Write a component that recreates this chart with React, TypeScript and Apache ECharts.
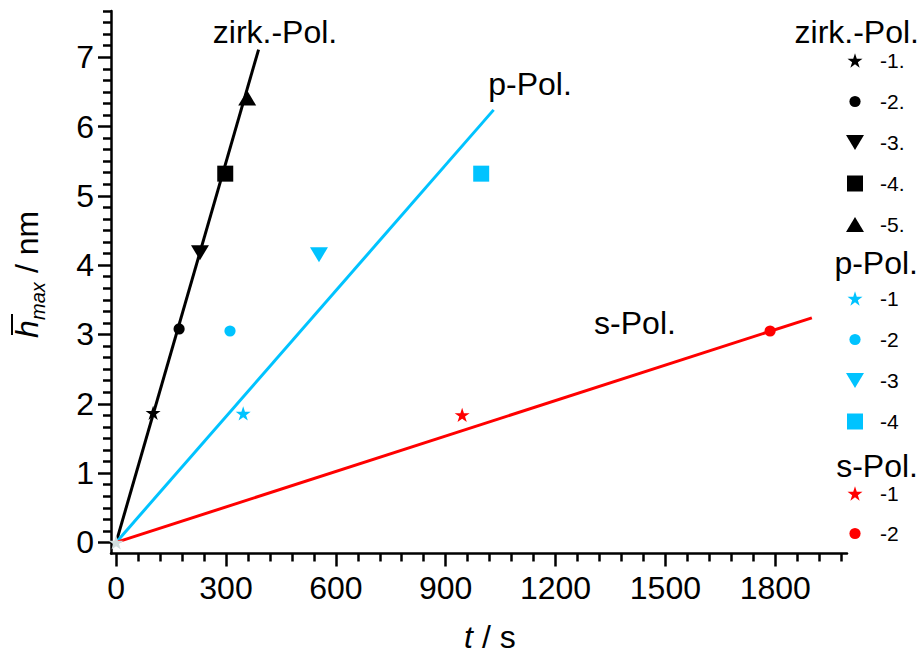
import React, { useEffect, useRef } from "react";
import * as echarts from "echarts";

// ---- data ----
const zirkT = [101, 172, 229, 298, 358];
const zirkH = [1.87, 3.08, 4.18, 5.32, 6.41];
const zirkNames = ["-1.", "-2.", "-3.", "-4.", "-5."];
const zirkShapes = ["star", "circle", "triDown", "square", "triUp"];

const pT = [347, 311, 554, 997];
const pH = [1.86, 3.05, 4.15, 5.32];
const pNames = ["-1", "-2", "-3", "-4"];
const pShapes = ["star", "circle", "triDown", "square"];

const sT = [945, 1786];
const sH = [1.84, 3.05];
const sNames = ["-1", "-2"];
const sShapes = ["star", "circle"];

const originT = [0];
const originH = [0];

const zirkFitT = [0, 389];
const zirkFitH = [0, 7.11];
const pFitT = [0, 1031];
const pFitH = [0, 6.24];
const sFitT = [0, 1900];
const sFitH = [0, 3.24];

const xMajor = [0, 300, 600, 900, 1200, 1500, 1800];
const yMajor = [0, 1, 2, 3, 4, 5, 6, 7];

const BLACK = "#000000";
const CYAN = "#00C3FF";
const RED = "#FF0000";
const GREY = "#D2DEDE";
const FONT = '"Liberation Sans", Arial, Helvetica, sans-serif';

function xMinorTicks() {
  const out: number[] = [];
  for (let v = 60; v <= 1980; v += 60) if (v % 300 !== 0) out.push(v);
  return out;
}
function yMinorTicks() {
  const out: number[] = [];
  for (let k = 1; k <= 46; k++) if (k % 6 !== 0) out.push(k / 6);
  return out;
}

function shapePath(kind: string, cx: number, cy: number): string {
  const f = (n: number) => n.toFixed(2);
  if (kind === "star") {
    const R = 15 / 1.902;
    const r = R * 0.382;
    const c = cy + R * 0.0955;
    let d = "";
    for (let i = 0; i < 10; i++) {
      const a = -Math.PI / 2 + (i * Math.PI) / 5;
      const rr = i % 2 === 0 ? R : r;
      d += (i === 0 ? "M" : "L") + f(cx + rr * Math.cos(a)) + "," + f(c + rr * Math.sin(a));
    }
    return d + "Z";
  }
  if (kind === "circle") {
    const r = 5.6;
    return `M${f(cx - r)},${f(cy)}A${r},${r} 0 1,0 ${f(cx + r)},${f(cy)}A${r},${r} 0 1,0 ${f(cx - r)},${f(cy)}Z`;
  }
  if (kind === "square") {
    const h = 8;
    return `M${f(cx - h)},${f(cy - h)}L${f(cx + h)},${f(cy - h)}L${f(cx + h)},${f(cy + h)}L${f(cx - h)},${f(cy + h)}Z`;
  }
  if (kind === "triDown") {
    return `M${f(cx - 9)},${f(cy - 7.5)}L${f(cx + 9)},${f(cy - 7.5)}L${f(cx)},${f(cy + 7.5)}Z`;
  }
  return `M${f(cx - 9)},${f(cy + 7.5)}L${f(cx + 9)},${f(cy + 7.5)}L${f(cx)},${f(cy - 7.5)}Z`;
}

function symbol(kind: string, w: number, h: number) {
  return `path://M0,0M${w},${h}` + shapePath(kind, w / 2, h / 2);
}

export default function App() {
  const ref = useRef<HTMLDivElement>(null);

  useEffect(() => {
    if (!ref.current) return;
    document.body.style.margin = "0";
    const chart = echarts.init(ref.current, undefined, { renderer: "svg" });

    const series: any[] = [];
    const fits: [string, number[], number[], string][] = [
      ["zirkFit", zirkFitT, zirkFitH, BLACK],
      ["pFit", pFitT, pFitH, CYAN],
      ["sFit", sFitT, sFitH, RED],
    ];
    fits.forEach(([name, t, h, color]) => {
      series.push({
        name,
        type: "line",
        data: t.map((v, i) => [v, h[i]]),
        showSymbol: false,
        lineStyle: { color, width: 3 },
        itemStyle: { color },
        z: 2,
      });
    });

    const groups: [string, number[], number[], string[], string[], string][] = [
      ["z", zirkT, zirkH, zirkNames, zirkShapes, BLACK],
      ["p", pT, pH, pNames, pShapes, CYAN],
      ["s", sT, sH, sNames, sShapes, RED],
    ];
    const legendData: any[][] = [[], [], []];
    groups.forEach(([key, t, h, names, shapes, color], gi) => {
      t.forEach((v, i) => {
        const nm = key + "|" + names[i];
        series.push({
          name: nm,
          type: "scatter",
          data: [[v, h[i]]],
          symbol: symbol(shapes[i], 24, 24),
          symbolSize: 24,
          itemStyle: { color, opacity: 1 },
          z: 4,
        });
        legendData[gi].push({ name: nm, icon: symbol(shapes[i], 40, 20), itemStyle: { color, opacity: 1 } });
      });
    });
    series.push({
      name: "origin",
      type: "scatter",
      data: originT.map((v, i) => [v, originH[i]]),
      symbol: symbol("star", 24, 24),
      symbolSize: 24,
      itemStyle: { color: GREY, opacity: 1 },
      z: 5,
    });

    const legendTops = [50, 288, 483];
    const legends = legendData.map((data, i) => ({
      show: true,
      orient: "vertical",
      left: 835,
      top: legendTops[i],
      padding: 0,
      itemWidth: 40,
      itemHeight: 20,
      itemGap: i === 2 ? 19 : 20,
      selectedMode: false,
      data,
      formatter: (name: string) => name.split("|")[1],
      textStyle: { fontSize: 21, lineHeight: 20, color: "#000", fontFamily: FONT },
    }));

    const axisCommon = {
      type: "value",
      splitLine: { show: false },
    };

    const txt = (text: string, x: number, y: number, align: string, font: string) => ({
      type: "text",
      x,
      y,
      style: {
        text,
        font,
        fill: "#000",
        align,
        textAlign: align,
        verticalAlign: "middle",
        textVerticalAlign: "middle",
      },
    });

    const F32 = `32px ${FONT}`;
    const FI32 = `italic 32px ${FONT}`;
    const FI20 = `italic 20px ${FONT}`;
    const plain = (v: number) => String(v);

    chart.setOption({
      animation: false,
      backgroundColor: "#ffffff",
      grid: { left: 111, top: 11, right: 73, bottom: 103.5, containLabel: false },
      xAxis: [
        {
          ...axisCommon,
          min: -14,
          max: 1996,
          position: "bottom",
          axisLine: { show: true, onZero: false, lineStyle: { color: "#000", width: 2.5 } },
          axisTick: { show: true, customValues: xMajor, length: 13, lineStyle: { color: "#000", width: 2.5 } },
          axisLabel: { show: true, customValues: xMajor, formatter: plain, fontSize: 32, color: "#000", fontFamily: FONT, margin: 18 },
        },
        {
          ...axisCommon,
          min: -14,
          max: 1996,
          position: "bottom",
          offset: 0,
          axisLine: { show: false, onZero: false },
          axisTick: { show: true, customValues: xMinorTicks(), length: 8, lineStyle: { color: "#000", width: 2.5 } },
          axisLabel: { show: false },
        },
      ],
      yAxis: [
        {
          ...axisCommon,
          min: -0.16,
          max: 23 / 3,
          position: "left",
          axisLine: { show: true, onZero: false, lineStyle: { color: "#000", width: 2.5 } },
          axisTick: { show: true, customValues: yMajor, length: 13, lineStyle: { color: "#000", width: 2.5 } },
          axisLabel: { show: true, customValues: yMajor, formatter: plain, fontSize: 32, color: "#000", fontFamily: FONT, margin: 17 },
        },
        {
          ...axisCommon,
          min: -0.16,
          max: 23 / 3,
          position: "left",
          offset: 0,
          axisLine: { show: false, onZero: false },
          axisTick: { show: true, customValues: yMinorTicks(), length: 8, lineStyle: { color: "#000", width: 2.5 } },
          axisLabel: { show: false },
        },
      ],
      legend: legends,
      tooltip: { show: false },
      series,
      graphic: [
        txt("zirk.-Pol.", 275, 32, "center", F32),
        txt("p-Pol.", 530, 84, "center", F32),
        txt("s-Pol.", 635, 323, "center", F32),
        txt("zirk.-Pol.", 919, 32, "right", F32),
        txt("p-Pol.", 918, 263, "right", F32),
        txt("s-Pol.", 918, 466, "right", F32),
        {
          type: "group",
          x: 490,
          y: 637,
          children: [
            txt("t", -26, 0, "left", FI32),
            txt(" / s", -17, 0, "left", F32),
          ],
        },
        {
          type: "group",
          x: 38,
          y: 338,
          rotation: Math.PI / 2,
          children: [
            txt("h", 0, -11, "left", FI32),
            {
              type: "line",
              shape: { x1: 3, y1: -26, x2: 24, y2: -26 },
              style: { stroke: "#000", lineWidth: 2 },
            },
            txt("max", 18, 0, "left", FI20),
            txt(" / nm", 56, -11, "left", F32),
          ],
        },
      ],
    });

    return () => chart.dispose();
  }, []);

  return <div ref={ref} style={{ width: 920, height: 657, background: "#fff" }} />;
}
